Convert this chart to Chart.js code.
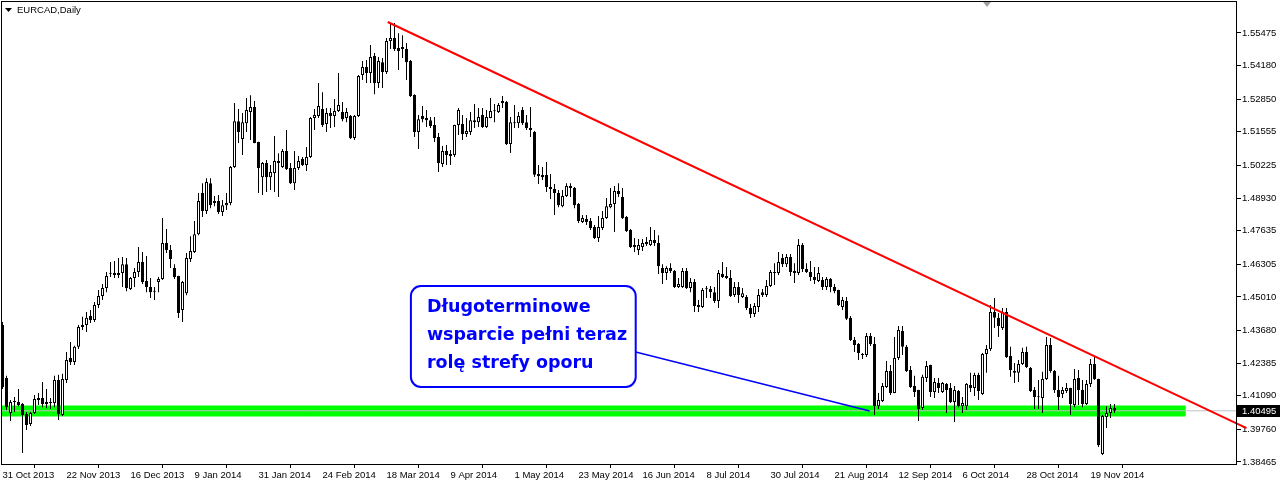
<!DOCTYPE html>
<html>
<head>
<meta charset="utf-8">
<script src="https://cdn.jsdelivr.net/npm/chart.js@4.4.1/dist/chart.umd.min.js"></script>
<style>
  html, body { margin: 0; padding: 0; background: #fff; }
</style>
</head>
<body>
<canvas id="chart" width="1280" height="482"></canvas>
<script>
// EURCAD daily bars, 31 Oct 2013 .. 28 Nov 2014
const opens = [
  1.4390, 1.4180, 1.4041, 1.4084, 1.4084, 1.4076, 1.4037, 1.3997, 1.4041, 1.4100,
  1.4100, 1.4084, 1.4080, 1.4080, 1.4172, 1.4033, 1.4172, 1.4259, 1.4243, 1.4303,
  1.4382, 1.4390, 1.4426, 1.4410, 1.4469, 1.4505, 1.4536, 1.4596, 1.4596, 1.4588,
  1.4596, 1.4631, 1.4532, 1.4576, 1.4600, 1.4639, 1.4564, 1.4540, 1.4524, 1.4560,
  1.4572, 1.4715, 1.4687, 1.4616, 1.4584, 1.4449, 1.4516, 1.4651, 1.4679, 1.4750,
  1.4913, 1.4842, 1.4952, 1.4873, 1.4881, 1.4838, 1.4865, 1.4873, 1.5016, 1.5198,
  1.5127, 1.5190, 1.5234, 1.5254, 1.5115, 1.4976, 1.5032, 1.4976, 1.4992, 1.5040,
  1.5016, 1.5080, 1.5012, 1.4952, 1.5012, 1.5048, 1.5024, 1.5056, 1.5210, 1.5218,
  1.5246, 1.5187, 1.5230, 1.5218, 1.5238, 1.5234, 1.5210, 1.5218, 1.5131, 1.5218,
  1.5381, 1.5413, 1.5389, 1.5456, 1.5349, 1.5432, 1.5393, 1.5516, 1.5528, 1.5488,
  1.5492, 1.5484, 1.5436, 1.5302, 1.5155, 1.5218, 1.5210, 1.5202, 1.5183, 1.5135,
  1.5028, 1.5080, 1.5068, 1.5064, 1.5183, 1.5187, 1.5147, 1.5155, 1.5202, 1.5194,
  1.5222, 1.5175, 1.5210, 1.5238, 1.5234, 1.5278, 1.5274, 1.5107, 1.5194, 1.5190,
  1.5242, 1.5194, 1.5171, 1.5155, 1.4988, 1.4984, 1.4984, 1.4937, 1.4929, 1.4913,
  1.4861, 1.4901, 1.4941, 1.4933, 1.4869, 1.4798, 1.4810, 1.4802, 1.4778, 1.4735,
  1.4774, 1.4814, 1.4857, 1.4869, 1.4921, 1.4897, 1.4818, 1.4766, 1.4707, 1.4687,
  1.4699, 1.4719, 1.4707, 1.4727, 1.4715, 1.4616, 1.4596, 1.4616, 1.4604, 1.4540,
  1.4540, 1.4604, 1.4536, 1.4560, 1.4469, 1.4461, 1.4532, 1.4532, 1.4520, 1.4485,
  1.4592, 1.4584, 1.4576, 1.4509, 1.4540, 1.4501, 1.4501, 1.4457, 1.4433, 1.4461,
  1.4520, 1.4509, 1.4544, 1.4600, 1.4596, 1.4655, 1.4631, 1.4659, 1.4604, 1.4596,
  1.4707, 1.4612, 1.4600, 1.4580, 1.4564, 1.4568, 1.4540, 1.4572, 1.4540, 1.4528,
  1.4461, 1.4485, 1.4418, 1.4330, 1.4314, 1.4275, 1.4271, 1.4346, 1.4314, 1.4068,
  1.4088, 1.4144, 1.4207, 1.4120, 1.4259, 1.4366, 1.4303, 1.4211, 1.4148, 1.4132,
  1.4061, 1.4180, 1.4231, 1.4124, 1.4160, 1.4124, 1.4156, 1.4140, 1.4084, 1.4128,
  1.4068, 1.4068, 1.4152, 1.4140, 1.4191, 1.4116, 1.4275, 1.4295, 1.4441, 1.4418,
  1.4378, 1.4441, 1.4267, 1.4207, 1.4200, 1.4235, 1.4283, 1.4219, 1.4132, 1.4104,
  1.4100, 1.4176, 1.4310, 1.4207, 1.4132, 1.4116, 1.4128, 1.4140, 1.4072, 1.4180,
  1.4132, 1.4076, 1.4156, 1.4235, 1.4176, 1.3878, 1.4025, 1.4041, 1.4061
];
const highs = [
  1.4402, 1.4188, 1.4092, 1.4104, 1.4136, 1.4080, 1.4045, 1.4045, 1.4112, 1.4120,
  1.4164, 1.4136, 1.4100, 1.4188, 1.4192, 1.4196, 1.4283, 1.4322, 1.4307, 1.4390,
  1.4422, 1.4441, 1.4449, 1.4481, 1.4528, 1.4552, 1.4600, 1.4639, 1.4643, 1.4655,
  1.4659, 1.4655, 1.4580, 1.4616, 1.4699, 1.4679, 1.4663, 1.4576, 1.4540, 1.4580,
  1.4814, 1.4770, 1.4707, 1.4631, 1.4585, 1.4564, 1.4675, 1.4742, 1.4802, 1.4913,
  1.4952, 1.4972, 1.4972, 1.4901, 1.4905, 1.4885, 1.4913, 1.5020, 1.5270, 1.5246,
  1.5230, 1.5290, 1.5301, 1.5278, 1.5116, 1.5036, 1.5044, 1.5024, 1.5139, 1.5071,
  1.5088, 1.5163, 1.5032, 1.5080, 1.5060, 1.5056, 1.5095, 1.5214, 1.5246, 1.5349,
  1.5313, 1.5250, 1.5250, 1.5286, 1.5389, 1.5274, 1.5250, 1.5222, 1.5222, 1.5381,
  1.5436, 1.5440, 1.5500, 1.5468, 1.5452, 1.5448, 1.5528, 1.5587, 1.5587, 1.5547,
  1.5539, 1.5508, 1.5440, 1.5305, 1.5222, 1.5258, 1.5242, 1.5214, 1.5214, 1.5151,
  1.5099, 1.5103, 1.5084, 1.5184, 1.5250, 1.5222, 1.5210, 1.5234, 1.5266, 1.5250,
  1.5250, 1.5242, 1.5290, 1.5266, 1.5270, 1.5298, 1.5278, 1.5214, 1.5262, 1.5234,
  1.5254, 1.5222, 1.5254, 1.5159, 1.5024, 1.5016, 1.5036, 1.4988, 1.4949, 1.4925,
  1.4925, 1.4952, 1.4952, 1.4937, 1.4873, 1.4826, 1.4826, 1.4814, 1.4786, 1.4822,
  1.4842, 1.4893, 1.4933, 1.4941, 1.4952, 1.4933, 1.4822, 1.4770, 1.4735, 1.4731,
  1.4731, 1.4739, 1.4778, 1.4766, 1.4746, 1.4631, 1.4623, 1.4635, 1.4608, 1.4576,
  1.4616, 1.4616, 1.4576, 1.4572, 1.4489, 1.4536, 1.4544, 1.4544, 1.4540, 1.4608,
  1.4639, 1.4620, 1.4608, 1.4560, 1.4560, 1.4536, 1.4509, 1.4473, 1.4477, 1.4532,
  1.4532, 1.4568, 1.4608, 1.4635, 1.4679, 1.4671, 1.4671, 1.4671, 1.4635, 1.4731,
  1.4715, 1.4635, 1.4643, 1.4620, 1.4620, 1.4580, 1.4580, 1.4576, 1.4552, 1.4529,
  1.4501, 1.4501, 1.4425, 1.4342, 1.4318, 1.4279, 1.4358, 1.4358, 1.4342, 1.4120,
  1.4160, 1.4247, 1.4231, 1.4342, 1.4386, 1.4386, 1.4310, 1.4227, 1.4188, 1.4133,
  1.4192, 1.4247, 1.4232, 1.4180, 1.4180, 1.4164, 1.4160, 1.4160, 1.4148, 1.4132,
  1.4104, 1.4160, 1.4200, 1.4200, 1.4200, 1.4279, 1.4310, 1.4469, 1.4497, 1.4437,
  1.4457, 1.4457, 1.4303, 1.4239, 1.4251, 1.4299, 1.4303, 1.4223, 1.4144, 1.4172,
  1.4204, 1.4342, 1.4338, 1.4211, 1.4188, 1.4144, 1.4160, 1.4141, 1.4215, 1.4211,
  1.4172, 1.4172, 1.4255, 1.4263, 1.4177, 1.4033, 1.4068, 1.4076, 1.4076
];
const lows = [
  1.4136, 1.4053, 1.4009, 1.4045, 1.4068, 1.3882, 1.3973, 1.3989, 1.4037, 1.4072,
  1.4064, 1.4060, 1.4057, 1.4064, 1.4013, 1.4029, 1.4160, 1.4231, 1.4231, 1.4295,
  1.4370, 1.4362, 1.4398, 1.4402, 1.4457, 1.4489, 1.4520, 1.4580, 1.4576, 1.4576,
  1.4540, 1.4524, 1.4528, 1.4540, 1.4580, 1.4552, 1.4520, 1.4497, 1.4489, 1.4520,
  1.4568, 1.4675, 1.4616, 1.4572, 1.4417, 1.4402, 1.4508, 1.4639, 1.4675, 1.4746,
  1.4818, 1.4830, 1.4853, 1.4861, 1.4830, 1.4822, 1.4846, 1.4865, 1.5012, 1.5111,
  1.5064, 1.5155, 1.5123, 1.5110, 1.4913, 1.4905, 1.4917, 1.4925, 1.4917, 1.4897,
  1.5012, 1.5004, 1.4949, 1.4925, 1.5004, 1.5020, 1.5000, 1.5052, 1.5163, 1.5210,
  1.5175, 1.5155, 1.5171, 1.5175, 1.5234, 1.5198, 1.5194, 1.5127, 1.5123, 1.5214,
  1.5361, 1.5349, 1.5349, 1.5305, 1.5329, 1.5329, 1.5385, 1.5484, 1.5476, 1.5401,
  1.5448, 1.5361, 1.5294, 1.5135, 1.5088, 1.5194, 1.5175, 1.5171, 1.5115, 1.4996,
  1.5016, 1.5024, 1.5024, 1.5056, 1.5143, 1.5123, 1.5135, 1.5143, 1.5171, 1.5175,
  1.5171, 1.5171, 1.5209, 1.5194, 1.5230, 1.5250, 1.5103, 1.5072, 1.5171, 1.5171,
  1.5183, 1.5163, 1.5135, 1.4977, 1.4949, 1.4965, 1.4917, 1.4889, 1.4826, 1.4857,
  1.4857, 1.4897, 1.4897, 1.4853, 1.4794, 1.4794, 1.4786, 1.4766, 1.4731, 1.4719,
  1.4766, 1.4810, 1.4853, 1.4758, 1.4897, 1.4810, 1.4758, 1.4695, 1.4679, 1.4667,
  1.4683, 1.4703, 1.4703, 1.4703, 1.4592, 1.4552, 1.4568, 1.4596, 1.4536, 1.4536,
  1.4536, 1.4532, 1.4520, 1.4441, 1.4441, 1.4457, 1.4497, 1.4497, 1.4477, 1.4457,
  1.4576, 1.4572, 1.4501, 1.4501, 1.4477, 1.4497, 1.4449, 1.4417, 1.4421, 1.4441,
  1.4501, 1.4501, 1.4540, 1.4548, 1.4588, 1.4620, 1.4620, 1.4584, 1.4556, 1.4588,
  1.4600, 1.4596, 1.4564, 1.4552, 1.4560, 1.4528, 1.4528, 1.4520, 1.4516, 1.4465,
  1.4449, 1.4410, 1.4326, 1.4283, 1.4251, 1.4255, 1.4263, 1.4306, 1.4033, 1.4057,
  1.4084, 1.4140, 1.4112, 1.4119, 1.4251, 1.4271, 1.4203, 1.4140, 1.4104, 1.4009,
  1.4053, 1.4164, 1.4104, 1.4100, 1.4120, 1.4120, 1.4041, 1.4080, 1.4005, 1.4064,
  1.4041, 1.4053, 1.4124, 1.4108, 1.4092, 1.4112, 1.4200, 1.4287, 1.4378, 1.4342,
  1.4370, 1.4259, 1.4184, 1.4160, 1.4164, 1.4231, 1.4219, 1.4124, 1.4057, 1.4057,
  1.4041, 1.4172, 1.4200, 1.4120, 1.4053, 1.4100, 1.4120, 1.4033, 1.4064, 1.4072,
  1.4064, 1.4072, 1.4144, 1.4172, 1.3906, 1.3874, 1.3981, 1.4021, 1.4041
];
const closes = [
  1.4144, 1.4064, 1.4084, 1.4085, 1.4072, 1.4033, 1.3993, 1.4041, 1.4096, 1.4092,
  1.4076, 1.4076, 1.4081, 1.4172, 1.4037, 1.4176, 1.4251, 1.4243, 1.4303, 1.4382,
  1.4390, 1.4418, 1.4410, 1.4469, 1.4505, 1.4536, 1.4584, 1.4593, 1.4588, 1.4596,
  1.4631, 1.4536, 1.4576, 1.4600, 1.4639, 1.4560, 1.4540, 1.4520, 1.4522, 1.4572,
  1.4715, 1.4687, 1.4651, 1.4580, 1.4437, 1.4560, 1.4655, 1.4683, 1.4750, 1.4881,
  1.4842, 1.4957, 1.4865, 1.4881, 1.4838, 1.4865, 1.4873, 1.5016, 1.5198, 1.5155,
  1.5194, 1.5242, 1.5254, 1.5111, 1.5012, 1.5032, 1.4976, 1.4996, 1.5040, 1.5032,
  1.5080, 1.5008, 1.4952, 1.5012, 1.5040, 1.5024, 1.5056, 1.5210, 1.5222, 1.5258,
  1.5183, 1.5230, 1.5218, 1.5238, 1.5262, 1.5206, 1.5234, 1.5131, 1.5218, 1.5377,
  1.5413, 1.5389, 1.5452, 1.5349, 1.5436, 1.5393, 1.5516, 1.5528, 1.5484, 1.5476,
  1.5484, 1.5432, 1.5298, 1.5155, 1.5206, 1.5206, 1.5202, 1.5179, 1.5131, 1.5032,
  1.5080, 1.5064, 1.5060, 1.5183, 1.5242, 1.5147, 1.5159, 1.5202, 1.5194, 1.5214,
  1.5175, 1.5214, 1.5238, 1.5237, 1.5262, 1.5270, 1.5107, 1.5194, 1.5190, 1.5218,
  1.5190, 1.5171, 1.5163, 1.4985, 1.4980, 1.4976, 1.4937, 1.4929, 1.4913, 1.4865,
  1.4901, 1.4941, 1.4933, 1.4865, 1.4802, 1.4814, 1.4798, 1.4774, 1.4735, 1.4778,
  1.4814, 1.4861, 1.4869, 1.4921, 1.4909, 1.4814, 1.4762, 1.4699, 1.4699, 1.4707,
  1.4715, 1.4711, 1.4727, 1.4715, 1.4623, 1.4596, 1.4616, 1.4604, 1.4540, 1.4552,
  1.4604, 1.4536, 1.4560, 1.4465, 1.4461, 1.4528, 1.4531, 1.4520, 1.4485, 1.4596,
  1.4580, 1.4576, 1.4505, 1.4540, 1.4509, 1.4516, 1.4457, 1.4433, 1.4465, 1.4509,
  1.4509, 1.4544, 1.4600, 1.4596, 1.4639, 1.4631, 1.4659, 1.4600, 1.4596, 1.4707,
  1.4612, 1.4600, 1.4580, 1.4568, 1.4596, 1.4540, 1.4572, 1.4540, 1.4524, 1.4469,
  1.4489, 1.4414, 1.4330, 1.4310, 1.4279, 1.4271, 1.4346, 1.4314, 1.4068, 1.4092,
  1.4148, 1.4207, 1.4120, 1.4259, 1.4370, 1.4303, 1.4207, 1.4144, 1.4124, 1.4057,
  1.4184, 1.4227, 1.4124, 1.4164, 1.4140, 1.4160, 1.4132, 1.4084, 1.4132, 1.4068,
  1.4080, 1.4156, 1.4140, 1.4191, 1.4128, 1.4275, 1.4295, 1.4441, 1.4418, 1.4386,
  1.4441, 1.4263, 1.4211, 1.4200, 1.4235, 1.4283, 1.4223, 1.4128, 1.4104, 1.4103,
  1.4176, 1.4310, 1.4207, 1.4132, 1.4104, 1.4132, 1.4140, 1.4076, 1.4176, 1.4132,
  1.4076, 1.4156, 1.4235, 1.4176, 1.3914, 1.4029, 1.4041, 1.4061, 1.40495
];

// time scale labels, one every 16 bars
const dateLabels = ['31 Oct 2013', '22 Nov 2013', '16 Dec 2013', '9 Jan 2014', '31 Jan 2014',
  '24 Feb 2014', '18 Mar 2014', '9 Apr 2014', '1 May 2014', '23 May 2014', '16 Jun 2014',
  '8 Jul 2014', '30 Jul 2014', '21 Aug 2014', '12 Sep 2014', '6 Oct 2014', '28 Oct 2014', '19 Nov 2014'];
const labelStep = 16;

// price scale
const priceTicks = [1.55475, 1.54180, 1.52850, 1.51555, 1.50225, 1.48930, 1.47635,
  1.46305, 1.45010, 1.43680, 1.42385, 1.41090, 1.39760, 1.38465];
const bidPrice = 1.40495;

// objects drawn on the chart (bar index, price)
const trendLine = [{x: 96.3, y: 1.5591}, {x: 311, y: 1.3981}];
const supportZone = [{x: -2, y: 1.4049}, {x: 295.8, y: 1.4049}];
const noteLink = [{x: 158.3, y: 1.4283}, {x: 216.8, y: 1.4049}];
const noteBox = {x0: 102.1, x1: 158.3, top: 1.4544, bottom: 1.4144};
const noteLines = ['Długoterminowe', 'wsparcie pełni teraz', 'rolę strefy oporu'];

const axisFont = {family: 'Liberation Sans, Arial, sans-serif', size: 9.5};

const candleBodies = opens.map((o, i) => ({x: i, y: [o, closes[i]]}));
const candleWicks = highs.map((h, i) => ({x: i, y: [lows[i], h]}));
const bidLine = [{x: -2, y: bidPrice}, {x: 320, y: bidPrice}];

// frame round the plot, title, price tag and the text box
const decorations = {
  id: 'decorations',
  afterDatasetsDraw(chart) {
    const ctx = chart.ctx;
    const {left, top, right, bottom} = chart.chartArea;
    const xs = chart.scales.x, ys = chart.scales.y;
    ctx.save();

    // note box
    const l = xs.getPixelForValue(noteBox.x0), r = xs.getPixelForValue(noteBox.x1);
    const t = ys.getPixelForValue(noteBox.top), b = ys.getPixelForValue(noteBox.bottom);
    ctx.beginPath();
    ctx.roundRect(l, t, r - l, b - t, 10);
    ctx.fillStyle = '#ffffff';
    ctx.fill();
    ctx.lineWidth = 2;
    ctx.strokeStyle = '#0000ff';
    ctx.stroke();
    ctx.fillStyle = '#0000ff';
    ctx.font = 'bold 17.5px "DejaVu Sans", sans-serif';
    ctx.textBaseline = 'middle';
    ctx.textAlign = 'left';
    noteLines.forEach((line, k) => ctx.fillText(line, l + 16, t + 21 + k * 28));

    // frame
    ctx.lineWidth = 1;
    ctx.strokeStyle = '#000000';
    ctx.strokeRect(left + 0.5, top + 0.5, right - left - 1, bottom - top - 1);

    // chart shift marker
    ctx.fillStyle = '#a0a0a0';
    ctx.beginPath();
    ctx.moveTo(left + 982, top + 1);
    ctx.lineTo(left + 990, top + 1);
    ctx.lineTo(left + 986, top + 6);
    ctx.closePath();
    ctx.fill();

    // title
    ctx.fillStyle = '#000000';
    ctx.beginPath();
    ctx.moveTo(left + 4, top + 7);
    ctx.lineTo(left + 11, top + 7);
    ctx.lineTo(left + 7.5, top + 11);
    ctx.closePath();
    ctx.fill();
    ctx.font = '9.5px "Liberation Sans", Arial, sans-serif';
    ctx.fillText('EURCAD,Daily', left + 16, top + 9);

    // last price tag
    const py = ys.getPixelForValue(bidPrice);
    ctx.fillRect(right, Math.round(py) - 6, chart.width - right, 12);
    ctx.fillStyle = '#ffffff';
    ctx.fillText(bidPrice.toFixed(5), right + 5, Math.round(py));
    ctx.restore();
  }
};

new Chart(document.getElementById('chart'), {
  type: 'bar',
  data: {
    datasets: [
      {type: 'line', data: trendLine, borderColor: '#ff0000', borderWidth: 2,
        pointRadius: 0, clip: false, order: 0},
      {type: 'line', data: noteLink, borderColor: '#0000ff', borderWidth: 1.5,
        pointRadius: 0, order: 1},
      {data: candleBodies, backgroundColor: c => closes[c.dataIndex] >= opens[c.dataIndex] ? '#ffffff' : '#000000',
        borderColor: '#000000', borderWidth: 1, borderSkipped: false, barThickness: 3,
        minBarLength: 1, grouped: false, inflateAmount: 0, order: 2},
      {data: candleWicks, backgroundColor: '#000000', borderWidth: 0, barThickness: 1,
        grouped: false, inflateAmount: 0, order: 3},
      {type: 'line', data: bidLine, borderColor: '#c0c0c0', borderWidth: 1,
        pointRadius: 0, order: 4},
      {type: 'line', data: supportZone, borderColor: '#00ff00', borderWidth: 11,
        borderCapStyle: 'butt', pointRadius: 0, order: 5}
    ]
  },
  options: {
    responsive: false,
    animation: false,
    devicePixelRatio: 1,
    layout: {padding: {top: 1, left: 1, right: 0, bottom: 0}},
    plugins: {legend: {display: false}, tooltip: {enabled: false}},
    scales: {
      x: {
        type: 'linear', min: -0.375, max: 308.625, offset: false, bounds: 'data',
        grid: {drawOnChartArea: false, drawTicks: true, tickLength: 3, color: '#000000'},
        border: {display: false},
        afterBuildTicks: s => { s.ticks = dateLabels.map((d, k) => ({value: k * labelStep})); },
        afterFit: s => { s.height = 17; s.paddingLeft = 0; s.paddingRight = 0; },
        ticks: {autoSkip: false, maxRotation: 0, minRotation: 0, align: 'start', padding: 2,
          color: '#000000', font: axisFont, callback: v => dateLabels[Math.round(v / labelStep)]}
      },
      y: {
        type: 'linear', position: 'right', min: 1.383457, max: 1.567438, bounds: 'data',
        grid: {drawOnChartArea: false, drawTicks: true, tickLength: 4, color: '#000000'},
        border: {display: false},
        afterBuildTicks: s => { s.ticks = priceTicks.map(v => ({value: v})); },
        afterFit: s => { s.width = 43; s.paddingTop = 0; s.paddingBottom = 0; },
        ticks: {padding: 1, color: '#000000', font: axisFont, callback: v => v.toFixed(5)}
      }
    }
  },
  plugins: [decorations]
});
</script>
</body>
</html>
